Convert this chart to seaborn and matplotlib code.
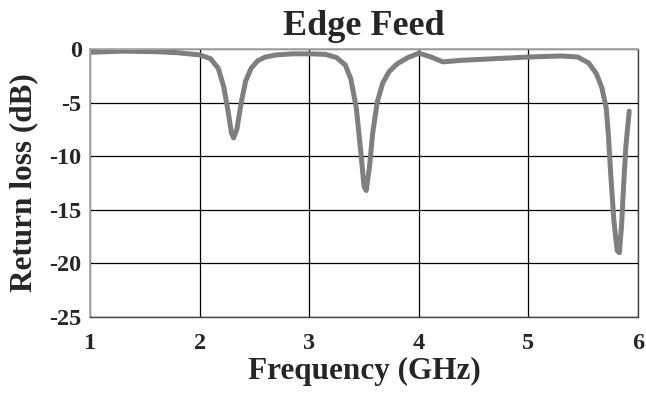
import matplotlib
matplotlib.use("Agg")
import matplotlib.pyplot as plt
import seaborn as sns
import pandas as pd

freq = [1.02, 1.3, 1.6, 1.8, 2.0, 2.1, 2.17, 2.22, 2.26, 2.29, 2.31, 2.34, 2.38, 2.42, 2.47, 2.53, 2.6, 2.7, 2.85, 3.0, 3.15, 3.25, 3.33, 3.38, 3.43, 3.47, 3.5, 3.52, 3.55, 3.58, 3.62, 3.67, 3.73, 3.8, 3.9, 4.0, 4.1, 4.22, 4.4, 4.7, 5.0, 5.3, 5.45, 5.55, 5.62, 5.67, 5.71, 5.73, 5.75, 5.78, 5.81, 5.83, 5.85, 5.87, 5.89, 5.92]
rl = [-0.3, -0.2, -0.25, -0.35, -0.55, -0.9, -1.8, -3.5, -5.8, -7.8, -8.3, -7.5, -5.0, -3.0, -1.8, -1.1, -0.75, -0.55, -0.45, -0.45, -0.5, -0.8, -1.5, -2.8, -5.5, -9.5, -12.8, -13.2, -11.0, -7.8, -5.0, -3.2, -2.1, -1.4, -0.8, -0.4, -0.7, -1.2, -1.05, -0.9, -0.75, -0.65, -0.75, -1.3, -2.3, -3.6, -5.5, -8.0, -11.5, -16.0, -18.8, -19.0, -16.5, -12.5, -9.0, -5.8]

xticks = [1, 2, 3, 4, 5, 6]
yticks = [0, -5, -10, -15, -20, -25]
ytick_labels = ["0", "-5", "-10", "-15", "-20", "-25"]

df = pd.DataFrame({"Frequency": freq, "RL": rl})

sns.set_style("white")
plt.rcParams['font.family'] = ['Liberation Serif', 'DejaVu Serif']

fig = plt.figure(figsize=(6.46, 3.98), dpi=100)
ax = fig.add_axes([0.1393, 0.2035, 0.8483, 0.6734])

sns.lineplot(data=df, x="Frequency", y="RL", ax=ax, color="#7f7f7f", linewidth=3.6, sort=False)

ax.set_xlim(1, 6)
ax.set_ylim(-25, 0)
ax.set_xticks(xticks)
ax.set_xticklabels([str(t) for t in xticks], fontsize=17.5, fontweight="bold")
ax.set_yticks(yticks)
ax.set_yticklabels(ytick_labels, fontsize=17.5, fontweight="bold")
ax.tick_params(axis="x", length=0, pad=11.5)
ax.tick_params(axis="y", length=0, pad=6)
ax.grid(True, color="black", linewidth=0.9)

for s in ["left", "top"]:
    ax.spines[s].set_color("#aaaaaa")
    ax.spines[s].set_linewidth(1.3)
for s in ["right", "bottom"]:
    ax.spines[s].set_color("#444444")
    ax.spines[s].set_linewidth(1.0)

ax.set_xlabel("Frequency (GHz)", fontsize=22.5, fontweight="bold", labelpad=2)
ax.set_ylabel("Return loss (dB)", fontsize=22.5, fontweight="bold", labelpad=8)
ax.set_title("Edge Feed", fontsize=26, fontweight="bold", pad=10)

fig.savefig("out.png", dpi=100)
